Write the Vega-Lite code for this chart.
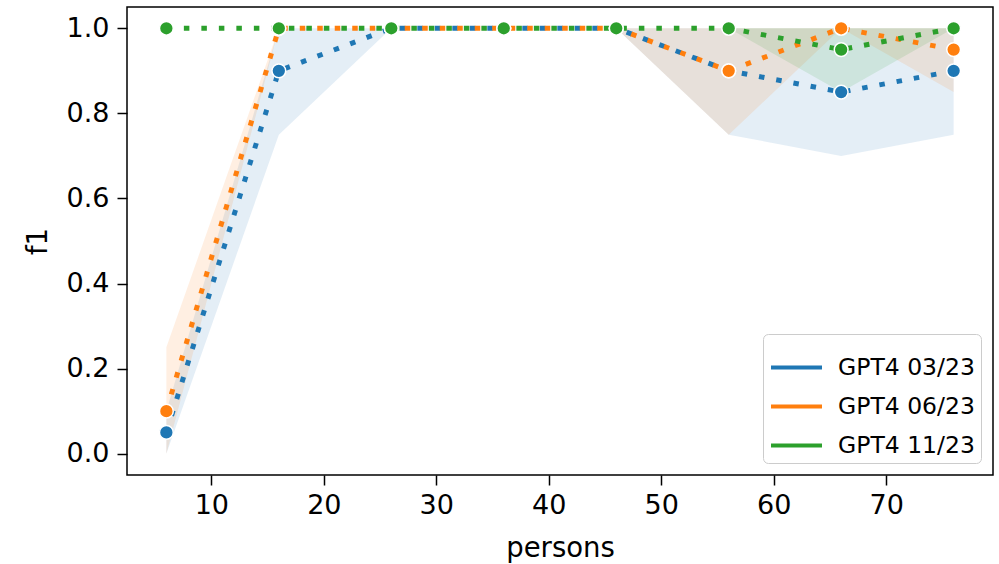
{
  "$schema": "https://vega.github.io/schema/vega-lite/v6.json",
  "width": 866,
  "height": 468,
  "autosize": "none",
  "padding": {"left": 127, "top": 7, "right": 6, "bottom": 89},
  "background": "white",
  "config": {
    "font": "DejaVu Sans",
    "view": {"stroke": "black", "strokeWidth": 1.5},
    "axis": {
      "grid": false,
      "domain": false,
      "tickColor": "black",
      "tickWidth": 1.5,
      "tickSize": 10,
      "labelFontSize": 27,
      "labelColor": "black",
      "labelFont": "DejaVu Sans",
      "titleFont": "DejaVu Sans",
      "titleFontSize": 27.5,
      "titleFontWeight": "normal",
      "titleColor": "black"
    }
  },
  "data": {
    "values": [
      {"persons": 6, "model": "GPT4 03/23", "f1": 0.05, "lo": 0.0, "hi": 0.1},
      {"persons": 16, "model": "GPT4 03/23", "f1": 0.9, "lo": 0.75, "hi": 1.0},
      {"persons": 26, "model": "GPT4 03/23", "f1": 1.0, "lo": 1.0, "hi": 1.0},
      {"persons": 36, "model": "GPT4 03/23", "f1": 1.0, "lo": 1.0, "hi": 1.0},
      {"persons": 46, "model": "GPT4 03/23", "f1": 1.0, "lo": 1.0, "hi": 1.0},
      {"persons": 56, "model": "GPT4 03/23", "f1": 0.9, "lo": 0.75, "hi": 1.0},
      {"persons": 66, "model": "GPT4 03/23", "f1": 0.85, "lo": 0.7, "hi": 1.0},
      {"persons": 76, "model": "GPT4 03/23", "f1": 0.9, "lo": 0.75, "hi": 1.0},
      {"persons": 6, "model": "GPT4 06/23", "f1": 0.1, "lo": 0.0, "hi": 0.25},
      {"persons": 16, "model": "GPT4 06/23", "f1": 1.0, "lo": 1.0, "hi": 1.0},
      {"persons": 26, "model": "GPT4 06/23", "f1": 1.0, "lo": 1.0, "hi": 1.0},
      {"persons": 36, "model": "GPT4 06/23", "f1": 1.0, "lo": 1.0, "hi": 1.0},
      {"persons": 46, "model": "GPT4 06/23", "f1": 1.0, "lo": 1.0, "hi": 1.0},
      {"persons": 56, "model": "GPT4 06/23", "f1": 0.9, "lo": 0.75, "hi": 1.0},
      {"persons": 66, "model": "GPT4 06/23", "f1": 1.0, "lo": 1.0, "hi": 1.0},
      {"persons": 76, "model": "GPT4 06/23", "f1": 0.95, "lo": 0.85, "hi": 1.0},
      {"persons": 6, "model": "GPT4 11/23", "f1": 1.0, "lo": 1.0, "hi": 1.0},
      {"persons": 16, "model": "GPT4 11/23", "f1": 1.0, "lo": 1.0, "hi": 1.0},
      {"persons": 26, "model": "GPT4 11/23", "f1": 1.0, "lo": 1.0, "hi": 1.0},
      {"persons": 36, "model": "GPT4 11/23", "f1": 1.0, "lo": 1.0, "hi": 1.0},
      {"persons": 46, "model": "GPT4 11/23", "f1": 1.0, "lo": 1.0, "hi": 1.0},
      {"persons": 56, "model": "GPT4 11/23", "f1": 1.0, "lo": 1.0, "hi": 1.0},
      {"persons": 66, "model": "GPT4 11/23", "f1": 0.95, "lo": 0.85, "hi": 1.0},
      {"persons": 76, "model": "GPT4 11/23", "f1": 1.0, "lo": 1.0, "hi": 1.0}
    ]
  },
  "encoding": {
    "x": {
      "field": "persons",
      "type": "quantitative",
      "scale": {"domain": [2.5, 79.5], "nice": false, "zero": false},
      "axis": {"values": [10, 20, 30, 40, 50, 60, 70], "title": "persons", "labelPadding": 7, "titlePadding": 16}
    },
    "color": {
      "field": "model",
      "type": "nominal",
      "scale": {"domain": ["GPT4 03/23", "GPT4 06/23", "GPT4 11/23"], "range": ["#1f77b4", "#ff7f0e", "#2ca02c"]},
      "legend": {
        "title": null,
        "orient": "bottom-right",
        "offset": 12,
        "padding": 6,
        "strokeColor": "#cccccc",
        "fillColor": "white",
        "cornerRadius": 5,
        "symbolType": "stroke",
        "symbolSize": 2600,
        "symbolStrokeWidth": 4,
        "labelFontSize": 23.5,
        "labelFont": "DejaVu Sans",
        "labelColor": "black",
        "labelOffset": 14,
        "rowPadding": 0,
        "encode": {
          "symbols": {
            "update": {
              "stroke": {"scale": "color", "field": "value"},
              "fill": {"value": "transparent"},
              "strokeDash": {"value": []},
              "strokeWidth": {"value": 4},
              "opacity": {"value": 1},
              "fillOpacity": {"value": 0},
              "strokeOpacity": {"value": 1}
            }
          }
        }
      }
    }
  },
  "layer": [
    {
      "mark": {"type": "area", "fillOpacity": 0.12, "strokeOpacity": 0.12, "strokeWidth": 1},
      "encoding": {
        "y": {
          "field": "lo",
          "type": "quantitative",
          "scale": {"domain": [-0.05, 1.05], "nice": false, "zero": false},
          "axis": {"values": [0, 0.2, 0.4, 0.6, 0.8, 1.0], "format": ".1f", "title": "f1", "labelPadding": 8, "titlePadding": 14}
        },
        "y2": {"field": "hi"}
      }
    },
    {
      "mark": {"type": "line", "strokeWidth": 5, "strokeDash": [5.5, 12], "strokeCap": "butt"},
      "encoding": {
        "y": {"field": "f1", "type": "quantitative"}
      }
    },
    {
      "mark": {"type": "point", "filled": true, "size": 190, "opacity": 1, "stroke": "white", "strokeWidth": 1.5},
      "encoding": {
        "y": {"field": "f1", "type": "quantitative"}
      }
    }
  ]
}
